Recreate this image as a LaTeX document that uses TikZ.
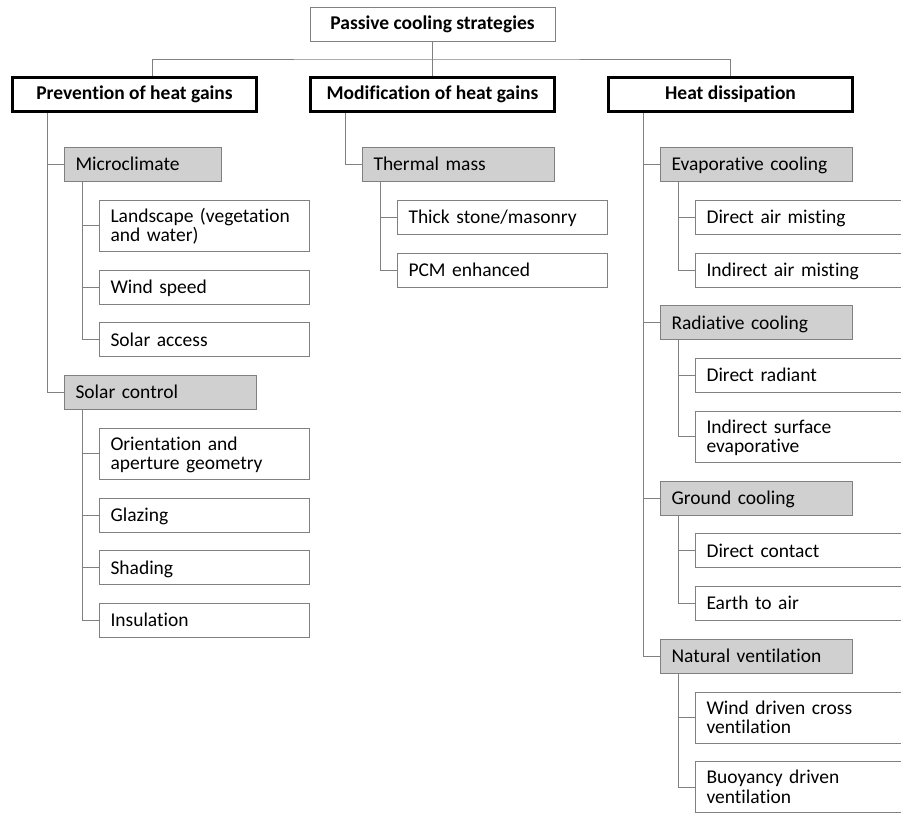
\documentclass[tikz,border=0pt]{standalone}
\usepackage{fontspec}
\setmainfont{Carlito}[Ligatures=NoCommon]
\usetikzlibrary{positioning,calc}
\definecolor{boxgray}{HTML}{D0D0D0}
\definecolor{linegray}{HTML}{808080}
\newcommand{\boxstrut}{\rule[-3.5pt]{0pt}{19.5pt}}
\tikzset{
  top/.style={draw=linegray,line width=1pt,minimum width=245pt,minimum height=34pt,font=\bfseries},
  main/.style={draw,line width=3pt,minimum width=244pt,minimum height=34pt,font=\bfseries},
  grp/.style={draw=linegray,line width=1pt,fill=boxgray,align=left,text width=170pt,inner xsep=11pt,inner ysep=6pt,minimum height=34pt,execute at begin node=\boxstrut,execute at end node=\boxstrut},
  item/.style={grp,fill=white,text width=188pt},
  link/.style={draw=linegray,line width=0.9pt}
}
\begin{document}
\fontsize{19.5}{19.5}\selectfont
\begin{tikzpicture}[x=1pt,y=1pt]
\useasboundingbox (0,0) rectangle (901,-812);
\node[top](root) at (432.5,-24.5){Passive cooling strategies};
\node[main](prev) at (134.5,-94.5){Prevention of heat gains};
\node[main](mod) at (432.5,-94.5){Modification of heat gains};
\node[main](heat) at (730.5,-94.5){Heat dissipation};
\node[grp,text width=135pt,below right=34pt and 53pt of prev.south west](micro){Microclimate};
\node[item,below right=17.75pt and 35pt of micro.south west](land){Landscape (vegetation\\and water)};
\node[item,below right=17.75pt and 0pt of land.south west](wind){Wind speed};
\node[item,below right=17.75pt and 0pt of wind.south west](sacc){Solar access};
\node[grp,below right=17.75pt and -35pt of sacc.south west](solar){Solar control};
\node[item,below right=17.75pt and 35pt of solar.south west](orient){Orientation and\\aperture geometry};
\node[item,below right=17.75pt and 0pt of orient.south west](glaz){Glazing};
\node[item,below right=17.75pt and 0pt of glaz.south west](shad){Shading};
\node[item,below right=17.75pt and 0pt of shad.south west](insul){Insulation};
\node[grp,below right=34pt and 53pt of mod.south west](tmass){Thermal mass};
\node[item,below right=17.75pt and 35pt of tmass.south west](stone){Thick stone/masonry};
\node[item,below right=17.75pt and 0pt of stone.south west](pcm){PCM enhanced};
\node[grp,below right=34pt and 53pt of heat.south west](evap){Evaporative cooling};
\node[item,below right=17.75pt and 35pt of evap.south west](dam){Direct air misting};
\node[item,below right=17.75pt and 0pt of dam.south west](iam){Indirect air misting};
\node[grp,below right=17.75pt and -35pt of iam.south west](rad){Radiative cooling};
\node[item,below right=17.75pt and 35pt of rad.south west](drad){Direct radiant};
\node[item,below right=17.75pt and 0pt of drad.south west](isurf){Indirect surface\\evaporative};
\node[grp,below right=17.75pt and -35pt of isurf.south west](gcool){Ground cooling};
\node[item,below right=17.75pt and 35pt of gcool.south west](dcon){Direct contact};
\node[item,below right=17.75pt and 0pt of dcon.south west](eta){Earth to air};
\node[grp,below right=17.75pt and -35pt of eta.south west](nvent){Natural ventilation};
\node[item,below right=17.75pt and 35pt of nvent.south west](wdv){Wind driven cross\\ventilation};
\node[item,below right=17.75pt and 0pt of wdv.south west](bdv){Buoyancy driven\\ventilation};
\draw[link](root)--(mod);
\draw[link]([xshift=17.5pt]prev.north)|-($(root.south)!.5!(mod.north)$)-|(heat.north);
\foreach \n in {micro,solar}\draw[link]([xshift=36.5pt]prev.south west)|-(\n.west);
\foreach \n in {tmass}\draw[link]([xshift=36.5pt]mod.south west)|-(\n.west);
\foreach \n in {evap,rad,gcool,nvent}\draw[link]([xshift=36.5pt]heat.south west)|-(\n.west);
\foreach \n in {land,wind,sacc}\draw[link]([xshift=18pt]micro.south west)|-(\n.west);
\foreach \n in {orient,glaz,shad,insul}\draw[link]([xshift=18pt]solar.south west)|-(\n.west);
\foreach \n in {stone,pcm}\draw[link]([xshift=18pt]tmass.south west)|-(\n.west);
\foreach \n in {dam,iam}\draw[link]([xshift=18pt]evap.south west)|-(\n.west);
\foreach \n in {drad,isurf}\draw[link]([xshift=18pt]rad.south west)|-(\n.west);
\foreach \n in {dcon,eta}\draw[link]([xshift=18pt]gcool.south west)|-(\n.west);
\foreach \n in {wdv,bdv}\draw[link]([xshift=18pt]nvent.south west)|-(\n.west);
\end{tikzpicture}
\end{document}
